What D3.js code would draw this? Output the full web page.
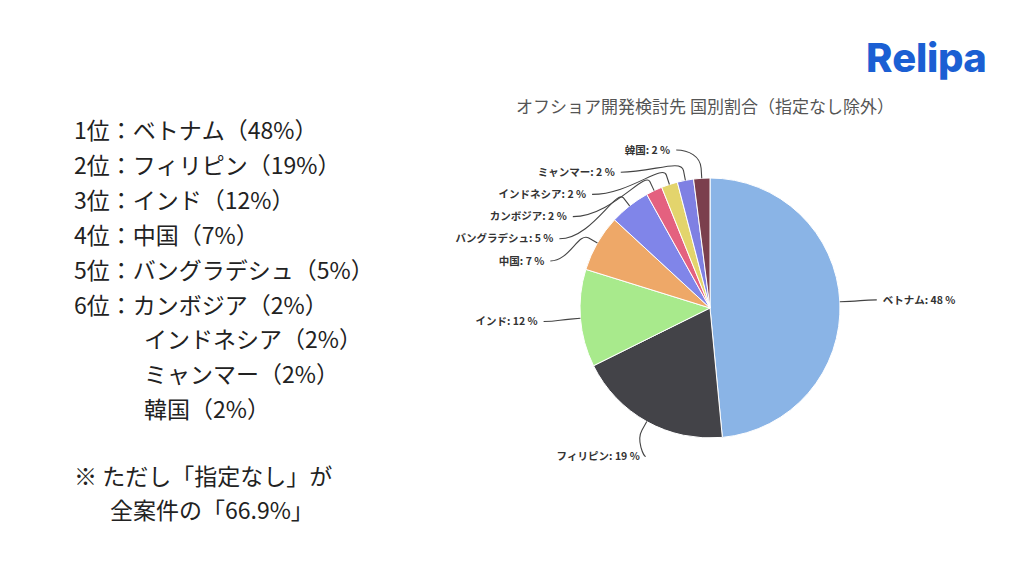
<!DOCTYPE html>
<html>
<head>
<meta charset="utf-8">
<script src="https://cdn.jsdelivr.net/npm/d3@7"></script>
<style>
  body { margin: 0; background: #fff; }
  svg { display: block; }
  text { text-spacing-trim: space-all; font-kerning: none; }
</style>
</head>
<body>
<svg id="chart"></svg>
<script>
// data
let countries = ['ベトナム', 'フィリピン', 'インド', '中国', 'バングラデシュ', 'カンボジア', 'インドネシア', 'ミャンマー', '韓国'];
let shares = [48, 19, 12, 7, 5, 2, 2, 2, 2];
let sliceColors = ['#8ab4e6', '#434348', '#a8ea8c', '#eea868', '#8085e9', '#e4617f', '#e3d46c', '#7f80e3', '#7b3f4d'];

let rankLines = [
  '1位：ベトナム（48%）',
  '2位：フィリピン（19%）',
  '3位：インド（12%）',
  '4位：中国（7%）',
  '5位：バングラデシュ（5%）',
  '6位：カンボジア（2%）',
  'インドネシア（2%）',
  'ミャンマー（2%）',
  '韓国（2%）'
];
let noteLines = ['※ ただし「指定なし」が', '全案件の「66.9%」'];

let svgWidth = 1024,
    svgHeight = 576;

let svg = d3.select('#chart')
            .attr('width', svgWidth)
            .attr('height', svgHeight);

// logo
svg.append('text')
   .attr('x', 866)
   .attr('y', 72)
   .attr('font-family', 'Inter, sans-serif')
   .attr('font-weight', 800)
   .attr('font-size', 40)
   .attr('letter-spacing', -0.3)
   .attr('fill', '#1b5fd3')
   .text('Relipa');

// left ranking text
let rankText = svg.append('g')
                  .attr('font-family', '"Noto Sans CJK JP", sans-serif')
                  .attr('font-size', 23)
                  .attr('fill', '#222');

rankText.selectAll('text')
        .data(rankLines)
        .join('text')
        .attr('x', (d, i) => i < 6 ? 74 : 144)
        .attr('y', (d, i) => 139 + i * 34.9)
        .text(d => d);

rankText.selectAll('text.note')
        .data(noteLines)
        .join('text')
        .attr('class', 'note')
        .attr('x', (d, i) => i === 0 ? 74 : 110)
        .attr('y', (d, i) => 485 + i * 34)
        .text(d => d);

// chart title
svg.append('text')
   .attr('x', 705)
   .attr('y', 113)
   .attr('text-anchor', 'middle')
   .attr('font-family', '"Noto Sans CJK JP", sans-serif')
   .attr('font-size', 17)
   .attr('fill', '#555')
   .text('オフショア開発検討先 国別割合（指定なし除外）');

// pie
let cx = 710, cy = 308, radius = 130;
let labelDist = 170;
let anchorRx = 171, anchorRy = 162;

let pie = d3.pie().sort(null).value(d => d.value);
let rows = countries.map((c, i) => ({ name: c, value: shares[i], color: sliceColors[i] }));
let arcs = pie(rows);

let arc = d3.arc().innerRadius(0).outerRadius(radius);

let g = svg.append('g').attr('transform', `translate(${cx},${cy})`);

g.selectAll('path.slice')
 .data(arcs)
 .join('path')
 .attr('class', 'slice')
 .attr('d', arc)
 .attr('fill', d => d.data.color)
 .attr('stroke', '#fff')
 .attr('stroke-width', 1);

// label layout: natural position on outer circle, then push apart per side
let labels = arcs.map(d => {
  let a = (d.startAngle + d.endAngle) / 2;
  return {
    d: d,
    a: a,
    side: Math.sin(a) >= 0 ? 1 : -1,
    y: -labelDist * Math.cos(a)
  };
});

let topLimit = -radius - 28;
let gap = 22.2;
[1, -1].forEach(side => {
  let list = labels.filter(l => l.side === side).sort((p, q) => p.y - q.y);
  for (let i = 0; i < list.length; i++) {
    if (i === 0) list[i].y = Math.max(list[i].y, topLimit);
    else list[i].y = Math.max(list[i].y, list[i - 1].y + gap);
  }
});

labels.forEach(l => {
  let t = Math.min(Math.abs(l.y) / anchorRy, 1);
  l.x = l.side * anchorRx * Math.sqrt(1 - t * t);
});

let conn = g.append('g')
            .attr('fill', 'none')
            .attr('stroke', '#444')
            .attr('stroke-width', 1.1);

conn.selectAll('path')
    .data(labels)
    .join('path')
    .attr('d', l => {
      let sx = radius * Math.sin(l.a), sy = -radius * Math.cos(l.a);
      let mx = (radius + 10) * Math.sin(l.a), my = -(radius + 10) * Math.cos(l.a);
      let c1x = (radius + 22) * Math.sin(l.a), c1y = -(radius + 22) * Math.cos(l.a);
      let ex = l.x - l.side * 4, ey = l.y;
      let p = d3.path();
      p.moveTo(sx, sy);
      p.lineTo(mx, my);
      p.bezierCurveTo(c1x, c1y, ex + l.side * (mx - ex) * 0.5 * l.side, ey, ex, ey);
      return p.toString();
    });

g.append('g')
 .attr('font-family', '"Noto Sans CJK JP", sans-serif')
 .attr('font-size', 10.5)
 .attr('font-weight', 700)
 .attr('fill', '#333')
 .selectAll('text')
 .data(labels)
 .join('text')
 .attr('x', l => l.x + l.side * 2)
 .attr('y', l => l.y)
 .attr('dy', '0.35em')
 .attr('text-anchor', l => l.side > 0 ? 'start' : 'end')
 .text(l => `${l.d.data.name}: ${l.d.data.value} %`);
</script>
</body>
</html>
